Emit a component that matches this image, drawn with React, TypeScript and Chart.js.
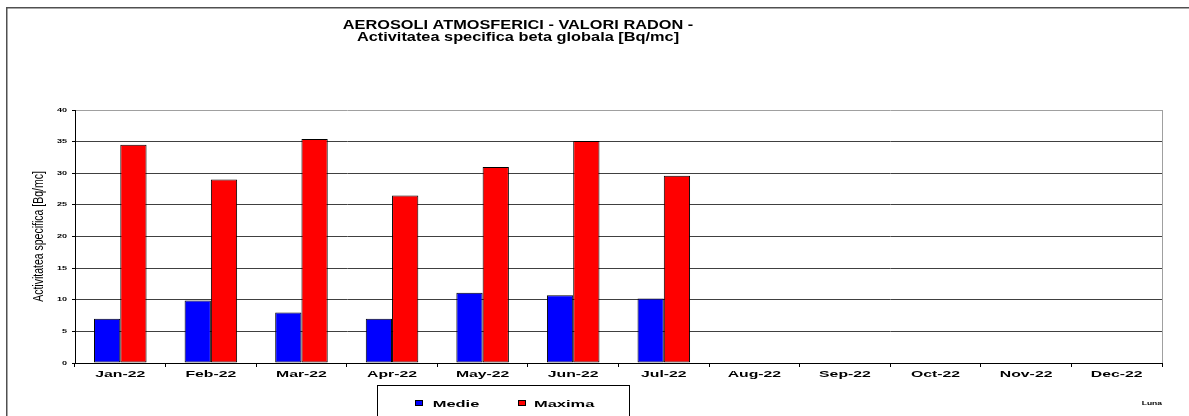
import React, { useEffect, useRef } from 'react';
import { Chart, registerables } from 'chart.js';

Chart.register(...registerables);

const titleLines = ['AEROSOLI ATMOSFERICI - VALORI RADON -', 'Activitatea specifica beta globala [Bq/mc]'];
const months = ['Jan-22', 'Feb-22', 'Mar-22', 'Apr-22', 'May-22', 'Jun-22', 'Jul-22', 'Aug-22', 'Sep-22', 'Oct-22', 'Nov-22', 'Dec-22'];
const medie = [7.0, 9.9, 8.0, 7.0, 11.1, 10.7, 10.2, null, null, null, null, null];
const maxima = [34.5, 29.0, 35.4, 26.5, 31.0, 35.1, 29.6, null, null, null, null, null];
const seriesNames = ['Medie', 'Maxima'];
const seriesColors = ['#0000FF', '#FF0000'];
const yMin = 0;
const yMax = 40;
const yStep = 5;
const yAxisTitle = 'Activitatea specifica [Bq/mc]';
const xAxisTitle = 'Luna';

const W = 1189;
const H = 416;
const FONT = '"Liberation Sans", Arial, Helvetica, sans-serif';

function withStretch(ctx: any, sx: number, sy: number, fn: () => void) {
  const orig = ctx.translate;
  ctx.translate = function (x: number, y: number) {
    orig.call(this, x, y);
    this.scale(sx, sy);
  };
  try {
    fn();
  } finally {
    delete ctx.translate;
    if (ctx.translate !== orig) ctx.translate = orig;
  }
}

const stretchCfg: Record<string, { labels: [number, number]; title: [number, number] }> = {
  x: { labels: [1.66, 1], title: [1.7, 1] },
  y: { labels: [1.65, 1], title: [1, 0.75] },
};

const stretchPlugin = {
  id: 'stretchText',
  beforeDraw(chart: any) {
    for (const id of Object.keys(stretchCfg)) {
      const s: any = chart.scales[id];
      if (!s || s.__stretched) continue;
      s.__stretched = true;
      const dl = s.drawLabels;
      const dt = s.drawTitle;
      const c = stretchCfg[id];
      s.drawLabels = function (area: any) {
        withStretch(chart.ctx, c.labels[0], c.labels[1], () => dl.call(s, area));
      };
      s.drawTitle = function () {
        withStretch(chart.ctx, c.title[0], c.title[1], () => dt.call(s));
      };
    }
  },
};

const decorPlugin = {
  id: 'decor',
  afterDraw(chart: any) {
    const ctx = chart.ctx as CanvasRenderingContext2D;
    const area = chart.chartArea;
    ctx.save();
    // outer frame
    ctx.strokeStyle = '#505050';
    ctx.lineWidth = 1.5;
    ctx.beginPath();
    ctx.moveTo(6.75, H + 2);
    ctx.lineTo(6.75, 7.75);
    ctx.lineTo(W + 2, 7.75);
    ctx.stroke();
    // right plot border
    ctx.strokeStyle = '#a0a0a0';
    ctx.lineWidth = 1;
    ctx.beginPath();
    ctx.moveTo(Math.round(area.right) + 0.5, area.top);
    ctx.lineTo(Math.round(area.right) + 0.5, area.bottom);
    ctx.stroke();
    // title
    ctx.fillStyle = '#000';
    ctx.font = `bold 12.2px ${FONT}`;
    ctx.textAlign = 'center';
    ctx.textBaseline = 'middle';
    const titleY = [25.5, 37.5];
    titleLines.forEach((t, i) => {
      ctx.save();
      ctx.translate(518, titleY[i]);
      ctx.scale(1.34, 1);
      ctx.fillText(t, 0, 0);
      ctx.restore();
    });
    // legend
    ctx.strokeStyle = '#000';
    ctx.lineWidth = 1;
    ctx.strokeRect(377.5, 385.5, 252, 40);
    const boxX = [415, 518];
    const textX = [432.7, 534];
    chart.data.datasets.forEach((ds: any, i: number) => {
      ctx.fillStyle = ds.backgroundColor;
      ctx.fillRect(boxX[i], 400, 8, 6);
      ctx.strokeStyle = '#000';
      ctx.strokeRect(boxX[i] + 0.5, 400.5, 7, 5);
      ctx.save();
      ctx.fillStyle = '#000';
      ctx.font = `bold 9.8px ${FONT}`;
      ctx.textAlign = 'left';
      ctx.textBaseline = 'middle';
      ctx.translate(textX[i], 404);
      ctx.scale(1.68, 1);
      ctx.fillText(ds.label, 0, 0);
      ctx.restore();
    });
    ctx.restore();
  },
};

export default function App() {
  const ref = useRef<HTMLCanvasElement>(null);
  useEffect(() => {
    if (!ref.current) return;
    Chart.defaults.font.family = FONT;
    const chart = new Chart(ref.current, {
      type: 'bar',
      data: {
        labels: months,
        datasets: [
          {
            label: seriesNames[0],
            data: medie,
            backgroundColor: seriesColors[0],
            borderColor: '#000',
            borderWidth: 1,
            borderSkipped: false,
            categoryPercentage: 0.58,
            barPercentage: 1,
          },
          {
            label: seriesNames[1],
            data: maxima,
            backgroundColor: seriesColors[1],
            borderColor: '#000',
            borderWidth: 1,
            borderSkipped: false,
            categoryPercentage: 0.58,
            barPercentage: 1,
          },
        ],
      },
      options: {
        responsive: false,
        animation: false,
        devicePixelRatio: 1,
        layout: { padding: { top: 110, right: 27, bottom: 9, left: 0 } },
        plugins: {
          legend: { display: false },
          title: { display: false },
          tooltip: { enabled: false },
        },
        scales: {
          x: {
            afterFit: (s: any) => {
              s.height = 44;
            },
            grid: {
              offset: true,
              drawOnChartArea: false,
              drawTicks: true,
              tickLength: 4,
              tickColor: '#000',
            },
            border: { color: '#000', width: 1 },
            ticks: {
              color: '#000',
              font: { size: 9.5, weight: 'bold' },
              padding: 1.5,
              maxRotation: 0,
              autoSkip: false,
            },
            title: {
              display: true,
              text: xAxisTitle,
              align: 'end',
              color: '#000',
              font: { size: 5, weight: 'bold' },
              padding: 0,
            },
          },
          y: {
            min: yMin,
            max: yMax,
            afterFit: (s: any) => {
              s.width = 75;
            },
            grid: {
              color: (c: any) => (c.tick && c.tick.value === yMax ? '#a0a0a0' : '#404040'),
              tickLength: 3,
              tickColor: '#000',
            },
            border: { color: '#000', width: 1 },
            ticks: {
              stepSize: yStep,
              color: '#000',
              font: { size: 5.5, weight: 'bold' },
              padding: 5,
            },
            title: {
              display: true,
              text: yAxisTitle,
              color: '#000',
              font: { size: 14, weight: 'normal' },
              padding: { top: 30.6, bottom: 0 },
            },
          },
        },
      },
      plugins: [stretchPlugin, decorPlugin],
    } as any);
    return () => chart.destroy();
  }, []);
  return (
    <div style={{ position: 'fixed', left: 0, top: 0, width: W, height: H, background: '#fff' }}>
      <canvas ref={ref} width={W} height={H} style={{ width: W, height: H, display: 'block' }} />
    </div>
  );
}
